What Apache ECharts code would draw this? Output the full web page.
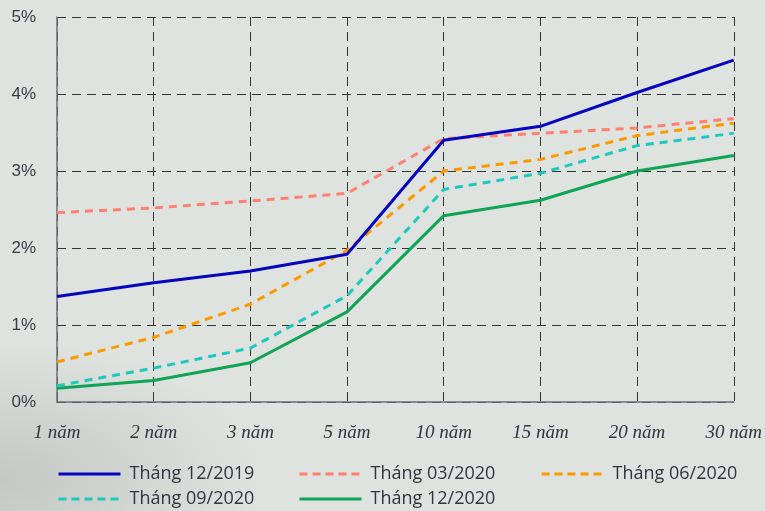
<!DOCTYPE html>
<html>
<head>
<meta charset="utf-8">
<script src="https://cdn.jsdelivr.net/npm/echarts@6/dist/echarts.min.js"></script>
<style>
html,body{margin:0;padding:0;width:765px;height:511px;overflow:hidden;
background:#dfe3df;}
#bg{position:absolute;left:0;top:0;width:765px;height:511px;
background:radial-gradient(ellipse 260px 140px at 0px 480px, #c4c8c5 0%, rgba(223,227,223,0) 100%), #dfe3df;}
#chart{position:absolute;left:0;top:0;width:765px;height:511px;}
</style>
</head>
<body>
<div id="bg"></div>
<div id="chart"></div>
<script>
const categories = ['1 năm','2 năm','3 năm','5 năm','10 năm','15 năm','20 năm','30 năm'];
const yTicks = [0,1,2,3,4,5];
const seriesNames = ['Tháng 12/2019','Tháng 03/2020','Tháng 06/2020','Tháng 09/2020','Tháng 12/2020'];
const dec2019 = [1.37,1.55,1.70,1.92,3.40,3.58,4.02,4.44];
const mar2020 = [2.46,2.52,2.61,2.71,3.42,3.49,3.56,3.68];
const jun2020 = [0.52,0.84,1.27,1.97,3.00,3.15,3.46,3.62];
const sep2020 = [0.21,0.44,0.70,1.38,2.76,2.97,3.33,3.49];
const dec2020 = [0.18,0.28,0.51,1.17,2.42,2.62,3.00,3.20];

const colors = ['#0505bf','#ff7f70','#fb9a00','#1dc9bd','#10a456'];
const dashed = [false,true,true,true,false];
const dataList = [dec2019,mar2020,jun2020,sep2020,dec2020];
const legendPos = [[57,465],[298,465],[540,465],[57,490],[298,490]];

const chart = echarts.init(document.getElementById('chart'), null, {renderer:'canvas'});
const series = seriesNames.map((n,i)=>({
  name:n, type:'line', data:dataList[i], symbol:'none', smooth:false,
  lineStyle:{color:colors[i], width:3, type: dashed[i]?[8,6]:'solid', cap:'butt'},
  itemStyle:{color:colors[i]}, z: 5-i
}));
const legends = seriesNames.map((n,i)=>({
  data:[n], left:legendPos[i][0], top:legendPos[i][1],
  itemWidth:62, itemHeight:14, itemGap:0, padding:0,
  itemStyle:{opacity:0},
  lineStyle:{width:3, type: dashed[i]?[8,5]:'solid'},
  textStyle:{fontFamily:'Open Sans', fontSize:18, color:'#33333f', padding:[0,0,0,4]},
  selectedMode:false
}));
chart.setOption({
  animation:false,
  backgroundColor:'transparent',
  grid:{left:57, right:30, top:17, bottom:109, containLabel:false},
  legend: legends,
  xAxis:{
    type:'category', data:categories, boundaryGap:false,
    axisLine:{show:true, lineStyle:{color:'#6e6e78', width:1.5}},
    axisTick:{show:false},
    axisLabel:{fontFamily:'Liberation Serif', fontStyle:'italic', fontSize:19, color:'#33333f', margin:21},
    splitLine:{show:true, lineStyle:{color:'#333', width:1, type:[9,6]}}
  },
  yAxis:{
    type:'value', min:0, max:5, interval:1,
    axisLine:{show:true, lineStyle:{color:'#6e6e78', width:1.5}},
    axisTick:{show:false},
    axisLabel:{fontFamily:'Liberation Sans', fontSize:17, color:'#3a3a48', margin:21,
      formatter:v=>yTicks.includes(v)? v+'%':''},
    splitLine:{show:true, lineStyle:{color:'#333', width:1, type:[9,6]}}
  },
  series: series
});
</script>
</body>
</html>
